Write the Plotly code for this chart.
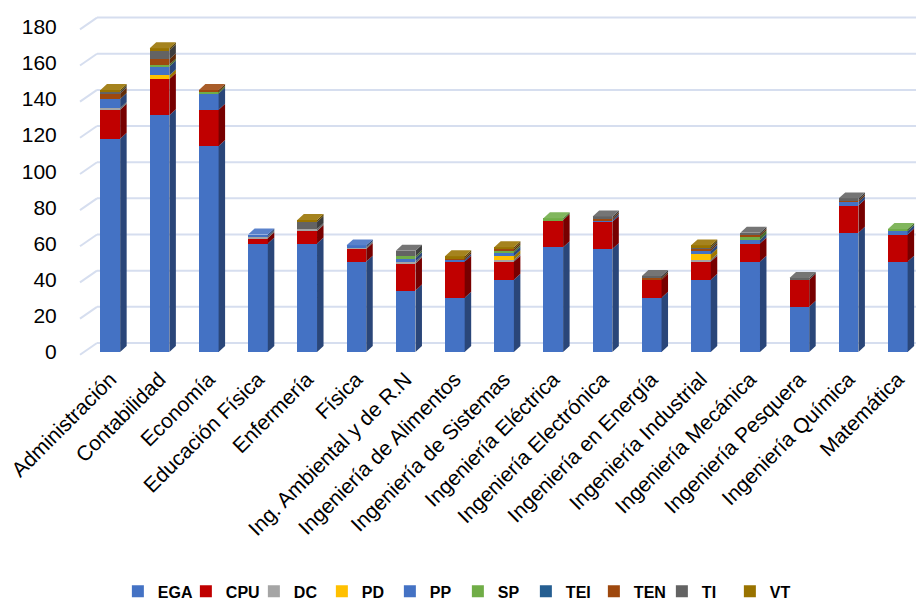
import plotly.graph_objects as go

categories = ["Administración", "Contabilidad", "Economía", "Educación Física", "Enfermería",
              "Física", "Ing. Ambiental y de R.N", "Ingeniería de Alimentos", "Ingeniería de Sistemas",
              "Ingeniería Eléctrica", "Ingeniería Electrónica", "Ingeniería en Energía",
              "Ingeniería Industrial", "Ingeniería Mecánica", "Ingeniería Pesquera",
              "Ingeniería Química", "Matemática"]

EGA = [118, 131, 114, 60, 60, 50, 34, 30, 40, 58, 57, 30, 40, 50, 25, 66, 50]
CPU = [16, 20, 20, 3, 7, 7, 15, 20, 10, 15, 15, 10, 10, 10, 15, 15, 15]
DC  = [1, 0, 0, 1, 1, 1, 1, 0, 1, 0, 0, 0, 1, 0, 0, 0, 0]
PD  = [0, 2, 0, 0, 0, 0, 0, 0, 2, 0, 0, 0, 3, 0, 0, 0, 0]
PP  = [5, 5, 9, 1, 0, 1, 2, 1, 2, 0, 1, 0, 2, 2, 0, 2, 2]
SP  = [0, 1, 1, 0, 0, 0, 1, 0, 1, 1, 0, 0, 0, 2, 0, 0, 1]
TEI = [0, 0, 0, 0, 0, 0, 0, 0, 0, 0, 0, 0, 0, 0, 0, 0, 0]
TEN = [3, 3, 1, 0, 0, 0, 0, 1, 1, 0, 1, 1, 1, 1, 0, 1, 0]
TI  = [1, 5, 0, 0, 4, 0, 3, 0, 0, 0, 1, 1, 1, 1, 1, 1, 0]
VT  = [1, 1, 0, 0, 1, 0, 0, 1, 1, 0, 0, 0, 1, 0, 0, 0, 0]

series_names = ["EGA", "CPU", "DC", "PD", "PP", "SP", "TEI", "TEN", "TI", "VT"]
series_values = [EGA, CPU, DC, PD, PP, SP, TEI, TEN, TI, VT]
series_colors = ["#4472C4", "#C00000", "#A5A5A5", "#FFC000", "#4472C4",
                 "#70AD47", "#255E91", "#9E480E", "#636363", "#997300"]

y_ticks = list(range(0, 181, 20))

FONT = "Liberation Sans Narrow, Arial Narrow, Liberation Sans, Arial, sans-serif"

# geometry of the pseudo-3D look (in axis units)
BAR_W = 0.40
DX = 0.132
DY = 3.3


def shade(h, f):
    h = h.lstrip("#")
    r, g, b = (int(h[i:i + 2], 16) for i in (0, 2, 4))
    return "rgb(%d,%d,%d)" % (int(r * f), int(g * f), int(b * f))


def tint(h, f):
    h = h.lstrip("#")
    r, g, b = (int(h[i:i + 2], 16) for i in (0, 2, 4))
    return "rgb(%d,%d,%d)" % (int(r + (255 - r) * f), int(g + (255 - g) * f), int(b + (255 - b) * f))


n = len(categories)
xs = list(range(n))
fig = go.Figure()

# front faces
for name, vals, col in zip(series_names, series_values, series_colors):
    fig.add_trace(go.Bar(x=xs, y=vals, name=name, marker=dict(color=col, line=dict(width=0)),
                         width=BAR_W, showlegend=True))

# side faces and top caps computed from the stacked values
totals = [sum(v[i] for v in series_values) for i in range(n)]
base = [0.0] * n
for si, (name, vals, col) in enumerate(zip(series_names, series_values, series_colors)):
    sx, sy, tx, ty = [], [], [], []
    for i in range(n):
        v = vals[i]
        if v <= 0:
            continue
        b0 = base[i]
        t0 = b0 + v
        xr = i + BAR_W / 2
        xl = i - BAR_W / 2
        sx += [xr, xr + DX, xr + DX, xr, xr, None]
        sy += [b0, b0 + DY, t0 + DY, t0, b0, None]
        if abs(t0 - totals[i]) < 1e-9:
            tx += [xl, xl + DX, xr + DX, xr, xl, None]
            ty += [t0, t0 + DY, t0 + DY, t0, t0, None]
        base[i] = t0
    if sx:
        fig.add_trace(go.Scatter(x=sx, y=sy, mode="lines", fill="toself",
                                 fillcolor=shade(col, 0.62), line=dict(width=0, color=shade(col, 0.62)),
                                 showlegend=False, hoverinfo="skip"))
    if tx:
        fig.add_trace(go.Scatter(x=tx, y=ty, mode="lines", fill="toself",
                                 fillcolor=tint(col, 0.12), line=dict(width=0, color=tint(col, 0.12)),
                                 showlegend=False, hoverinfo="skip"))

# back-wall gridlines with the slanted side-wall segment
GRID = "#D6DEEF"
x_wall = 17 / 836
shapes = []
for v in y_ticks:
    shapes.append(dict(type="line", xref="paper", yref="y", x0=0, x1=x_wall, y0=v - 1.5, y1=v + 5,
                       line=dict(color=GRID, width=2), layer="below"))
    shapes.append(dict(type="line", xref="paper", yref="y", x0=x_wall, x1=1, y0=v + 5, y1=v + 5,
                       line=dict(color=GRID, width=2), layer="below"))

fig.update_layout(
    width=918, height=601,
    margin=dict(l=80, r=2, t=10, b=239, autoexpand=False),
    barmode="stack",
    bargap=0.5,
    plot_bgcolor="white", paper_bgcolor="white",
    font=dict(family=FONT, size=21, color="#000000"),
    shapes=shapes,
    showlegend=True,
    legend=dict(orientation="h", x=0.452, xanchor="center", xref="paper",
                y=0.016, yanchor="middle", yref="container",
                font=dict(family=FONT, size=16, color="#000000", weight="bold"),
                traceorder="normal", itemwidth=30, tracegroupgap=0,
                entrywidth=23, entrywidthmode="pixels"),
    xaxis=dict(range=[-0.616, 16.37], tickmode="array", tickvals=xs, ticktext=categories,
               tickangle=-45, showgrid=False, zeroline=False, showline=False, automargin=False,
               tickfont=dict(family=FONT, size=21, color="#000000"), ticks=""),
    yaxis=dict(range=[-5.53, 189.2], tickmode="array", tickvals=y_ticks, automargin=False,
               ticktext=[str(v) for v in y_ticks], showgrid=False, zeroline=False, showline=False,
               ticks="outside", ticklen=18, tickcolor="rgba(0,0,0,0)",
               tickfont=dict(family=FONT, size=21, color="#000000")),
)

fig.write_html("out.html", config={"displayModeBar": False},
               post_script="document.body.style.margin='0';")
